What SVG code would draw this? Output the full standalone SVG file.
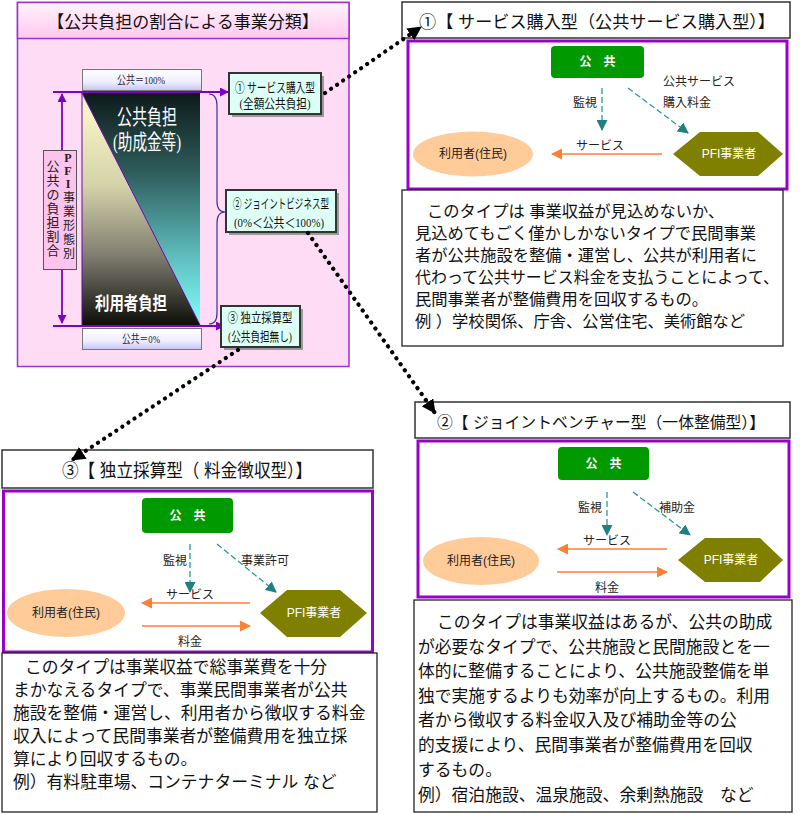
<svg xmlns="http://www.w3.org/2000/svg" width="800" height="815" viewBox="0 0 800 815">
<defs>
<style>
.jp{font-family:"Liberation Sans","Noto Sans CJK JP",sans-serif;}
.mj{font-family:"Liberation Serif","Noto Sans CJK JP",serif;}
.hdr{fill:#fff;stroke:#333;stroke-width:1.5;}
.hdrt{fill:#111;}
.pbox{fill:#fff;stroke:#9900cc;stroke-width:3;}
.green{fill:#009900;}
.gt{font-size:12px;fill:#fff;font-weight:bold;text-anchor:middle;}
.lab{font-size:12px;fill:#222;}
.ell{fill:#ffcc99;}
.hex{fill:#808000;}
.ht{font-size:12px;fill:#fff;text-anchor:middle;}
.et{font-size:12px;fill:#222;text-anchor:middle;}
.teal{stroke:#2a9a9a;stroke-width:1.3;stroke-dasharray:6 3;fill:none;}
.orange{stroke:#ff7f33;stroke-width:1.6;fill:none;}
.tbox{fill:#fff;stroke:#222;stroke-width:1.3;}
.body{font-size:16.3px;fill:#111;}
.body17{font-size:16.8px;fill:#111;}
.dots{stroke:#000;stroke-width:4.2;stroke-linecap:round;stroke-dasharray:0.1 7.2;fill:none;}
.lbox{fill:#ddfff5;stroke:#333;stroke-width:2;}
.lt{font-size:13px;fill:#111;}
.purp{stroke:#8000c0;stroke-width:1.8;fill:none;}
</style>
<marker id="mDot" markerUnits="userSpaceOnUse" markerWidth="14" markerHeight="14" refX="13" refY="7" orient="auto"><path d="M0,0 L14,7 L0,14 z" fill="#000"/></marker>
<marker id="mTeal" markerUnits="userSpaceOnUse" markerWidth="11" markerHeight="11" refX="10" refY="5.5" orient="auto"><path d="M0,0 L11,5.5 L0,11 z" fill="#1f8080"/></marker>
<marker id="mOr" markerUnits="userSpaceOnUse" markerWidth="11" markerHeight="11" refX="10" refY="5.5" orient="auto"><path d="M0,0 L11,5.5 L0,11 z" fill="#ff7f33"/></marker>
<marker id="mPur" markerUnits="userSpaceOnUse" markerWidth="9" markerHeight="9" refX="8" refY="4.5" orient="auto"><path d="M0,0 L9,4.5 L0,9 z" fill="#8000c0"/></marker>
<linearGradient id="gTitle" x1="0" y1="0" x2="0" y2="1"><stop offset="0" stop-color="#fff4fd"/><stop offset="1" stop-color="#ffc8f0"/></linearGradient>
<linearGradient id="gPct" x1="0" y1="0" x2="0" y2="1"><stop offset="0" stop-color="#ffffff"/><stop offset="0.6" stop-color="#eeeeff"/><stop offset="1" stop-color="#c4c4f0"/></linearGradient>
<linearGradient id="gUp" gradientUnits="userSpaceOnUse" x1="0" y1="93" x2="0" y2="325"><stop offset="0" stop-color="#0e1a1a"/><stop offset="0.35" stop-color="#2f5f5e"/><stop offset="0.7" stop-color="#5fbcbc"/><stop offset="1" stop-color="#80ffff"/></linearGradient>
<linearGradient id="gLo" gradientUnits="userSpaceOnUse" x1="0" y1="93" x2="0" y2="325"><stop offset="0" stop-color="#fffccc"/><stop offset="0.4" stop-color="#d4d2a8"/><stop offset="0.7" stop-color="#807e70"/><stop offset="1" stop-color="#0e0e0a"/></linearGradient>
</defs>

<!-- Left classification panel -->
<g id="classification-panel">
<rect x="17.5" y="2.5" width="331.5" height="364" fill="#ffdcf6" stroke="#9933cc" stroke-width="1.5"/>
<rect x="17.5" y="2.5" width="331.5" height="36" fill="url(#gTitle)" stroke="#9933cc" stroke-width="1.5"/>
<text class="jp" x="183" y="28" font-size="17" text-anchor="middle" fill="#111">【公共負担の割合による事業分類】</text>
<rect x="82.5" y="69.5" width="119" height="21" fill="url(#gPct)" stroke="#777" stroke-width="1"/>
<text class="mj" x="141" y="84" font-size="11" text-anchor="middle" fill="#223" textLength="48" lengthAdjust="spacingAndGlyphs">公共＝100%</text>
<polygon points="82,93 200,93 200,325" fill="url(#gUp)"/>
<polygon points="82,93 200,325 82,325" fill="url(#gLo)"/>
<line x1="82" y1="93" x2="200" y2="325" stroke="#7000b0" stroke-width="1"/>
<line x1="82" y1="93" x2="82" y2="325" stroke="#7000b0" stroke-width="1"/>
<text class="mj" x="147" y="124" font-size="21" text-anchor="middle" fill="#fff" textLength="60" lengthAdjust="spacingAndGlyphs">公共負担</text>
<text class="mj" x="147" y="149" font-size="21" text-anchor="middle" fill="#fff" textLength="68" lengthAdjust="spacingAndGlyphs">(助成金等)</text>
<text class="mj" x="131" y="310" font-size="18" text-anchor="middle" fill="#fff" font-weight="bold" textLength="72" lengthAdjust="spacingAndGlyphs">利用者負担</text>
<rect x="82.5" y="328.5" width="119" height="21" fill="url(#gPct)" stroke="#777" stroke-width="1"/>
<text class="mj" x="141" y="343" font-size="11" text-anchor="middle" fill="#223" textLength="38" lengthAdjust="spacingAndGlyphs">公共＝0%</text>
<line class="purp" x1="53" y1="92" x2="228" y2="92" marker-end="url(#mPur)"/>
<line class="purp" x1="53" y1="326" x2="224" y2="326" marker-end="url(#mPur)"/>
<line class="purp" x1="62" y1="210" x2="62" y2="94" stroke-width="1.3" marker-end="url(#mPur)"/>
<line class="purp" x1="62" y1="210" x2="62" y2="323" stroke-width="1.3" marker-end="url(#mPur)"/>
<path d="M209,94 Q217,94 217,106 L217,201 Q217,212 225,212 Q217,212 217,223 L217,313 Q217,324 209,324" fill="none" stroke="#333399" stroke-width="1.2"/>
</g>

<g id="pfi-label">
<rect x="43.5" y="150.5" width="33" height="119" fill="#ffc4ee" stroke="#555" stroke-width="1"/>
<text class="mj" font-size="13" fill="#222" text-anchor="middle">
<tspan x="53" y="171">公</tspan><tspan x="53" y="185">共</tspan><tspan x="53" y="199">の</tspan><tspan x="53" y="213">負</tspan><tspan x="53" y="227">担</tspan><tspan x="53" y="241">割</tspan><tspan x="53" y="255">合</tspan>
</text>
<text class="mj" font-size="12" fill="#222" text-anchor="middle" font-weight="bold">
<tspan x="68" y="162">P</tspan><tspan x="68" y="175">F</tspan><tspan x="68" y="188">I</tspan>
</text>
<text class="mj" font-size="12" fill="#222" text-anchor="middle">
<tspan x="69" y="202">事</tspan><tspan x="69" y="216">業</tspan><tspan x="69" y="230">形</tspan><tspan x="69" y="244">態</tspan><tspan x="69" y="258">別</tspan>
</text>
</g>

<g id="type1-label">
<rect x="232" y="76" width="92" height="41" fill="#999"/>
<rect class="lbox" x="229" y="73" width="92" height="41"/>
<text class="mj lt" x="275" y="92" text-anchor="middle" textLength="80" lengthAdjust="spacingAndGlyphs">① サービス購入型</text>
<text class="mj lt" x="275" y="108" text-anchor="middle" textLength="71" lengthAdjust="spacingAndGlyphs">(全額公共負担)</text>
</g>
<g id="type2-label">
<rect x="229" y="193" width="110" height="42" fill="#999"/>
<rect class="lbox" x="226" y="190" width="110" height="42"/>
<text class="mj lt" x="281" y="208" text-anchor="middle" textLength="96" lengthAdjust="spacingAndGlyphs">②  ジョイントビジネス型</text>
<text class="mj lt" x="279" y="227" text-anchor="middle" textLength="90" lengthAdjust="spacingAndGlyphs">(0%＜公共＜100%)</text>
</g>
<g id="type3-label">
<rect x="224" y="309" width="79" height="41" fill="#999"/>
<rect class="lbox" x="221" y="306" width="79" height="41"/>
<text class="mj lt" x="260" y="322" text-anchor="middle" textLength="65" lengthAdjust="spacingAndGlyphs">③ 独立採算型</text>
<text class="mj lt" x="260" y="341" text-anchor="middle" textLength="64" lengthAdjust="spacingAndGlyphs">(公共負担無し)</text>
</g>

<!-- Panel 1 -->
<g id="panel1-header">
<rect class="hdr" x="402" y="2" width="388" height="36"/>
<text class="jp hdrt" x="419" y="28" style="font-size:17px" textLength="356" lengthAdjust="spacingAndGlyphs">①【 サービス購入型（公共サービス購入型）】</text>
</g>
<g id="panel1-box"><rect class="pbox" x="408" y="41" width="379" height="148"/></g>
<g id="p1-public"><rect class="green" x="551" y="46" width="93" height="32" rx="4"/><text class="jp gt" x="597.5" y="66">公　共</text></g>
<g id="p1-user"><ellipse class="ell" cx="473" cy="154" rx="60" ry="22.5"/><text class="jp et" x="473" y="158">利用者(住民)</text></g>
<g id="p1-pfi"><polygon class="hex" points="673,154 700,132 758,132 783,154 758,176 700,176"/><text class="jp ht" x="729" y="158">PFI事業者</text></g>
<g id="p1-text">
<rect class="tbox" x="402" y="190" width="381" height="156"/>
<text class="jp body">
<tspan x="427" y="217">このタイプは 事業収益が見込めないか、</tspan>
<tspan x="415" y="239">見込めてもごく僅かしかないタイプで民間事業</tspan>
<tspan x="415" y="261">者が公共施設を整備・運営し、公共が利用者に</tspan>
<tspan x="415" y="283" textLength="364" lengthAdjust="spacingAndGlyphs">代わって公共サービス料金を支払うことによって、</tspan>
<tspan x="415" y="305">民間事業者が整備費用を回収するもの。</tspan>
<tspan x="415" y="327">例 ）学校関係、庁舎、公営住宅、美術館など</tspan>
</text>
</g>

<!-- Panel 2 -->
<g id="panel2-header">
<rect class="hdr" x="415" y="402" width="375" height="36"/>
<text class="jp hdrt" x="437" y="428" style="font-size:16px" textLength="328" lengthAdjust="spacingAndGlyphs">②【 ジョイントベンチャー型（一体整備型）】</text>
</g>
<g id="panel2-box"><rect class="pbox" x="418" y="441" width="371" height="156"/></g>
<g id="p2-public"><rect class="green" x="558" y="447" width="91" height="33" rx="4"/><text class="jp gt" x="603.5" y="468">公　共</text></g>
<g id="p2-user"><ellipse class="ell" cx="481" cy="561" rx="58" ry="24"/><text class="jp et" x="481" y="565">利用者(住民)</text></g>
<g id="p2-pfi"><polygon class="hex" points="678,560 705,538 760,538 783,560 760,582 705,582"/><text class="jp ht" x="731" y="564">PFI事業者</text></g>
<g id="p2-text">
<rect class="tbox" x="414" y="600" width="378" height="212"/>
<text class="jp body17">
<tspan x="437" y="628">このタイプは事業収益はあるが、公共の助成</tspan>
<tspan x="418" y="653">が必要なタイプで、公共施設と民間施設とを一</tspan>
<tspan x="418" y="677">体的に整備することにより、公共施設整備を単</tspan>
<tspan x="418" y="702">独で実施するよりも効率が向上するもの。利用</tspan>
<tspan x="418" y="726">者から徴収する料金収入及び補助金等の公</tspan>
<tspan x="418" y="751">的支援により、民間事業者が整備費用を回収</tspan>
<tspan x="418" y="776">するもの。</tspan>
<tspan x="418" y="801">例）宿泊施設、温泉施設、余剰熱施設　など</tspan>
</text>
</g>

<!-- Panel 3 -->
<g id="panel3-header">
<rect class="hdr" x="2" y="450" width="371" height="38"/>
<text class="jp hdrt" x="62" y="477" style="font-size:18.5px" textLength="250" lengthAdjust="spacingAndGlyphs">③【 独立採算型（ 料金徴収型）】</text>
</g>
<g id="panel3-box"><rect class="pbox" x="3.5" y="491" width="369" height="161"/></g>
<g id="p3-public"><rect class="green" x="142" y="498" width="91" height="35" rx="4"/><text class="jp gt" x="187.5" y="520">公　共</text></g>
<g id="p3-user"><ellipse class="ell" cx="66" cy="613" rx="59" ry="24"/><text class="jp et" x="66" y="617">利用者(住民)</text></g>
<g id="p3-pfi"><polygon class="hex" points="260,613 287,590 340,590 367,613 340,637 287,637"/><text class="jp ht" x="314" y="617">PFI事業者</text></g>
<g id="p3-text">
<rect class="tbox" x="2" y="653" width="375" height="159"/>
<text class="jp body17">
<tspan x="25" y="673">このタイプは事業収益で総事業費を十分</tspan>
<tspan x="13" y="696">まかなえるタイプで、事業民間事業者が公共</tspan>
<tspan x="13" y="719">施設を整備・運営し、利用者から徴収する料金</tspan>
<tspan x="13" y="742">収入によって民間事業者が整備費用を独立採</tspan>
<tspan x="13" y="765">算により回収するもの。</tspan>
<tspan x="13" y="788">例）有料駐車場、コンテナターミナル など</tspan>
</text>
</g>

<!-- Connectors -->
<g id="connectors">
<line class="dots" x1="325" y1="93" x2="421" y2="27" marker-end="url(#mDot)"/>
<line class="dots" x1="308" y1="233" x2="435" y2="413" marker-end="url(#mDot)"/>
<line class="dots" x1="238" y1="350" x2="72" y2="460" marker-end="url(#mDot)"/>

<line class="teal" x1="602" y1="88" x2="602" y2="130" marker-end="url(#mTeal)"/>
<line class="teal" x1="628" y1="88" x2="688" y2="133" marker-end="url(#mTeal)"/>
<line class="orange" x1="662" y1="154" x2="552" y2="154" marker-end="url(#mOr)"/>
<text class="jp lab" x="585" y="107" text-anchor="middle">監視</text>
<text class="jp lab" x="663" y="86">公共サービス</text>
<text class="jp lab" x="663" y="107">購入料金</text>
<text class="jp lab" x="600" y="150" text-anchor="middle">サービス</text>

<line class="teal" x1="607" y1="492" x2="607" y2="535" marker-end="url(#mTeal)"/>
<line class="teal" x1="633" y1="492" x2="690" y2="535" marker-end="url(#mTeal)"/>
<line class="orange" x1="667" y1="549" x2="558" y2="549" marker-end="url(#mOr)"/>
<line class="orange" x1="557" y1="572" x2="667" y2="572" marker-end="url(#mOr)"/>
<text class="jp lab" x="590" y="512" text-anchor="middle">監視</text>
<text class="jp lab" x="677" y="512" text-anchor="middle">補助金</text>
<text class="jp lab" x="607" y="545" text-anchor="middle">サービス</text>
<text class="jp lab" x="607" y="592" text-anchor="middle">料金</text>

<line class="teal" x1="190" y1="544" x2="190" y2="592" marker-end="url(#mTeal)"/>
<line class="teal" x1="217" y1="544" x2="276" y2="592" marker-end="url(#mTeal)"/>
<line class="orange" x1="250" y1="603" x2="142" y2="603" marker-end="url(#mOr)"/>
<line class="orange" x1="142" y1="626" x2="250" y2="626" marker-end="url(#mOr)"/>
<text class="jp lab" x="175" y="565" text-anchor="middle">監視</text>
<text class="jp lab" x="265" y="565" text-anchor="middle">事業許可</text>
<text class="jp lab" x="190" y="599" text-anchor="middle">サービス</text>
<text class="jp lab" x="190" y="646" text-anchor="middle">料金</text>
</g>
</svg>
